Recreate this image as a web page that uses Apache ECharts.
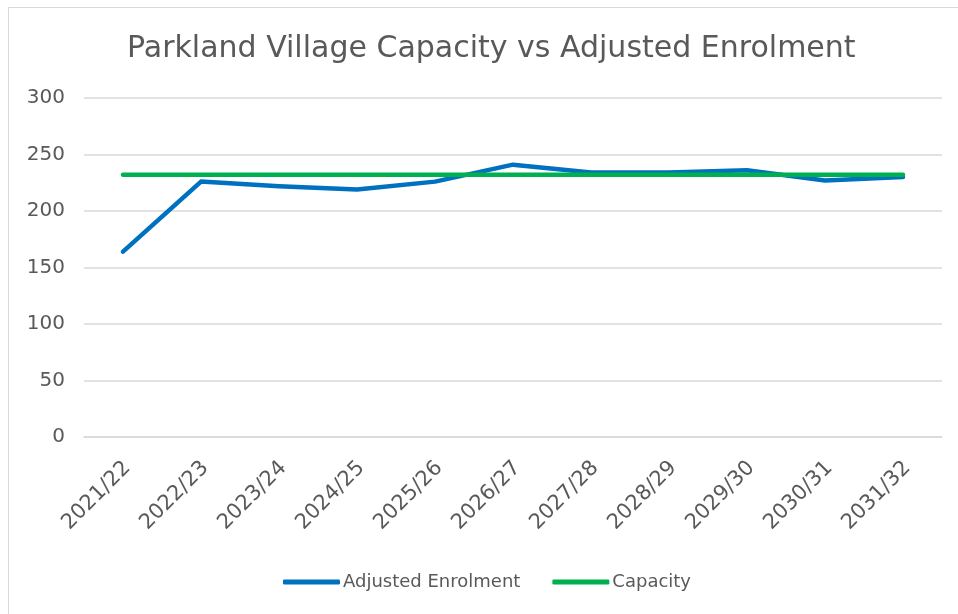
<!DOCTYPE html>
<html>
<head>
<meta charset="utf-8">
<script src="https://cdn.jsdelivr.net/npm/echarts@6/dist/echarts.min.js"></script>
<style>
  html, body { margin: 0; padding: 0; background: #fff; }
  #frame { position: absolute; left: 8px; top: 7px; width: 960px; height: 620px; border: 1px solid #d9d9d9; box-sizing: border-box; }
  #chart { position: absolute; left: 0; top: 0; width: 958px; height: 614px; }
</style>
</head>
<body>
<div id="frame"></div>
<div id="chart"></div>
<script>
const years = ['2021/22', '2022/23', '2023/24', '2024/25', '2025/26', '2026/27',
  '2027/28', '2028/29', '2029/30', '2030/31', '2031/32']
const enrolment = [164, 226, 222, 219, 226, 241, 234, 234, 236, 227, 230]
const capacity = [232, 232, 232, 232, 232, 232, 232, 232, 232, 232, 232]

const myChart = echarts.init(document.getElementById('chart'))
const textColor = '#595959'
const font = 'DejaVu Sans'

myChart.setOption({
  color: ['#0070C0', '#00B050'],
  textStyle: { fontFamily: font },
  title: {
    text: 'Parkland Village Capacity vs Adjusted Enrolment',
    left: 127,
    top: 34,
    padding: 0,
    textStyle: { fontFamily: font, fontSize: 30, fontWeight: 'normal', color: textColor }
  },
  legend: {
    data: ['Adjusted Enrolment', 'Capacity'],
    bottom: 18,
    left: 278,
    itemWidth: 57,
    itemHeight: 5,
    itemGap: 32,
    icon: 'roundRect',
    textStyle: { fontFamily: font, fontSize: 18, color: textColor, padding: [0, 0, 0, -2] }
  },
  grid: { left: 84, right: 16, top: 98, bottom: 177 },
  xAxis: {
    type: 'category',
    data: years,
    boundaryGap: true,
    axisLine: { lineStyle: { color: '#d9d9d9', width: 1.5 } },
    axisTick: { show: false },
    axisLabel: { rotate: 45, color: textColor, fontSize: 21, fontFamily: font, margin: 32, interval: 0, padding: [0, -6, 0, 0] }
  },
  yAxis: {
    type: 'value',
    min: 0,
    max: 300,
    interval: 50,
    axisLine: { show: false },
    axisTick: { show: false },
    splitLine: { lineStyle: { color: '#d9d9d9', width: 1.5 } },
    axisLabel: { color: textColor, fontSize: 20, fontFamily: font, margin: 19 }
  },
  series: [
    {
      name: 'Adjusted Enrolment',
      type: 'line',
      data: enrolment,
      symbol: 'none',
      lineStyle: { width: 4.5, color: '#0070C0', cap: 'round', join: 'round' }
    },
    {
      name: 'Capacity',
      type: 'line',
      data: capacity,
      symbol: 'none',
      lineStyle: { width: 4.5, color: '#00B050', cap: 'round' }
    }
  ]
})
</script>
</body>
</html>
